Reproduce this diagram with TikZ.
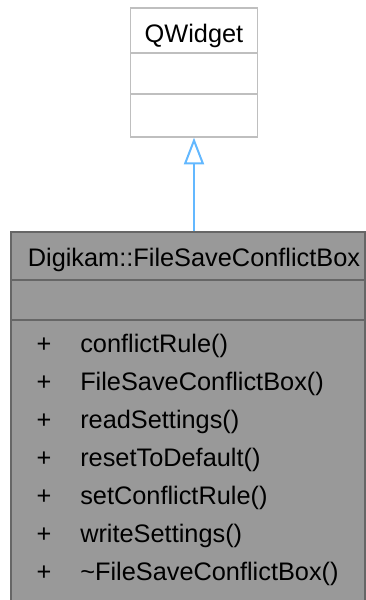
\documentclass[tikz,border=0pt]{standalone}
\usepackage{fontspec}
\setmainfont{Liberation Sans}
\usetikzlibrary{arrows.meta,positioning}
\definecolor{boxgray}{HTML}{999999}
\definecolor{edgegray}{HTML}{666666}
\definecolor{basegray}{HTML}{BFBFBF}
\definecolor{inheritblue}{HTML}{63B8FF}
\tikzset{
    classbox/.style={draw=edgegray, fill=boxgray, line width=1pt, inner sep=0pt},
    basebox/.style={draw=basegray, fill=white, line width=1pt, inner sep=0pt},
    label/.style={anchor=base, inner sep=0pt, font=\fontsize{19}{23}\selectfont},
    inherit/.style={draw=inheritblue, line width=1.5pt, -{Triangle[open, length=20pt, width=15pt]}}
}
\begin{document}
\begin{tikzpicture}[x=0.75pt, y=-0.75pt]
        \useasboundingbox (0,0) rectangle (366,600);

        % Basisklasse
        \node[basebox, minimum width=95.25pt, minimum height=96.75pt] (QW) at (194,72.5) {};
        \draw[basegray, line width=1pt] (130.5,53) -- (257.5,53);
        \draw[basegray, line width=1pt] (130.5,94) -- (257.5,94);
        \node[label] (QWname) at (194,42) {QWidget};

        % abgeleitete Klasse
        \node[classbox, minimum width=265.5pt, minimum height=277.5pt] (FS) at (188,417) {};
        \draw[edgegray, line width=1pt] (11,280) -- (365,280);
        \draw[edgegray, line width=1pt] (11,320) -- (365,320);
        \node[label] (FSname) at (194,266.5) {Digikam::FileSaveConflictBox};

        \foreach \m [count=\i] in {conflictRule(), FileSaveConflictBox(), readSettings(),
                resetToDefault(), setConflictRule(), writeSettings(), \textasciitilde FileSaveConflictBox()} {
            \node[label] (plus\i) at (44,314+38*\i) {+};
            \node[label, anchor=base west] (m\i) at (80,314+38*\i) {\m};
        }

        \draw[inherit] (QW.south |- FS.north) -- (QW.south);
    \end{tikzpicture}
\end{document}
